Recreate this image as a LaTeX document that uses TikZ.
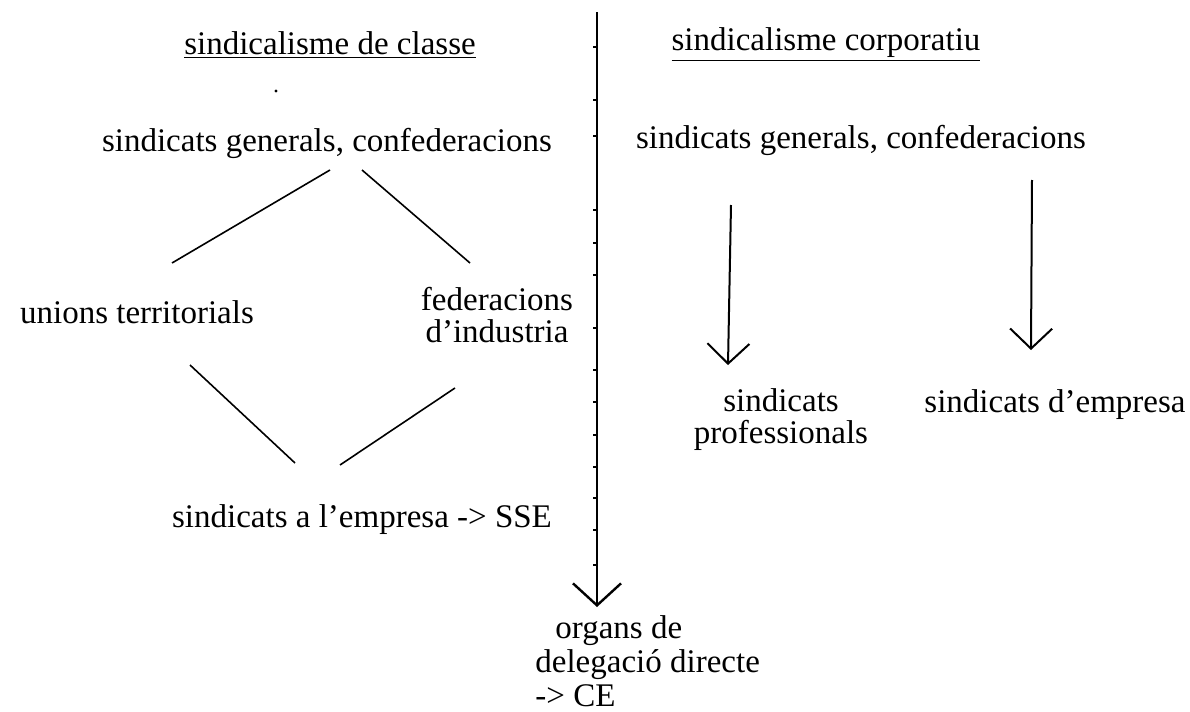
\documentclass[tikz,border=0pt]{standalone}
\usepackage{fontspec}
\setmainfont{Liberation Serif}
\usetikzlibrary{positioning,calc,arrows.meta}

\begin{document}
\begin{tikzpicture}[x=0.5pt,y=-0.5pt,
	lbl/.style={font=\fontsize{16.5}{16}\selectfont, inner sep=0pt, align=center},
	ln/.style={line width=0.8pt},
	vee/.style={line width=1pt, -{Straight Barb[length=10pt,width=21pt]}},
	]
	\useasboundingbox (0,0) rectangle (1190,712);

	% titles
	\node[lbl] (tcl) at (330,45) {\underline{sindicalisme de classe}};
	\node[lbl] (tco) at (826,45) {\underline{sindicalisme corporatiu}};
	\fill (276,91) circle (1.7);

	% left side
	\node[lbl] (genA) at (327,143) {sindicats generals, confederacions};
	\node[lbl] (terr) at (137,312) {unions territorials};
	\node[lbl] (fed) at (497,315) {federacions\\d'industria};
	\node[lbl] (emp) at (362,520) {sindicats a l'empresa -> SSE};

	\draw[ln] ($(genA)+(3,27)$) -- ($(terr)+(35,-49)$);
	\draw[ln] ($(genA)+(35,27)$) -- ($(fed)+(-27,-52)$);
	\draw[ln] ($(terr)+(53,53)$) -- ($(emp)+(-67,-57)$);
	\draw[ln] ($(fed)+(-42,73)$) -- ($(emp)+(-22,-55)$);

	% middle axis
	\coordinate (axtop) at (597,12);
	\node[lbl, anchor=north west, align=left] (org) at (535,615)
		{\hspace*{10pt}organs de\\[1pt]delegació directe\\[1pt]-> CE};
	\draw[line width=1.2pt, -{Straight Barb[length=11pt,width=24pt]}]
		(axtop) -- ($(org.north west)+(62,-8)$);
	\foreach \ty in {47,100,136,210,243,275,328,370,402,435,467,498,530,565}
		\draw[line width=0.6pt] (593,\ty) -- (597,\ty);

	% right side
	\node[lbl] (genB) at (861,140) {sindicats generals, confederacions};
	\node[lbl] (prof) at (781,420) {sindicats\\professionals};
	\node[lbl] (demp) at (1055,405) {sindicats d'empresa};

	\draw[vee] ($(genB)+(-130,65)$) -- ($(prof)+(-53,-55)$);
	\draw[vee] ($(genB)+(171,40)$) -- ($(demp)+(-24,-55)$);
\end{tikzpicture}
\end{document}
